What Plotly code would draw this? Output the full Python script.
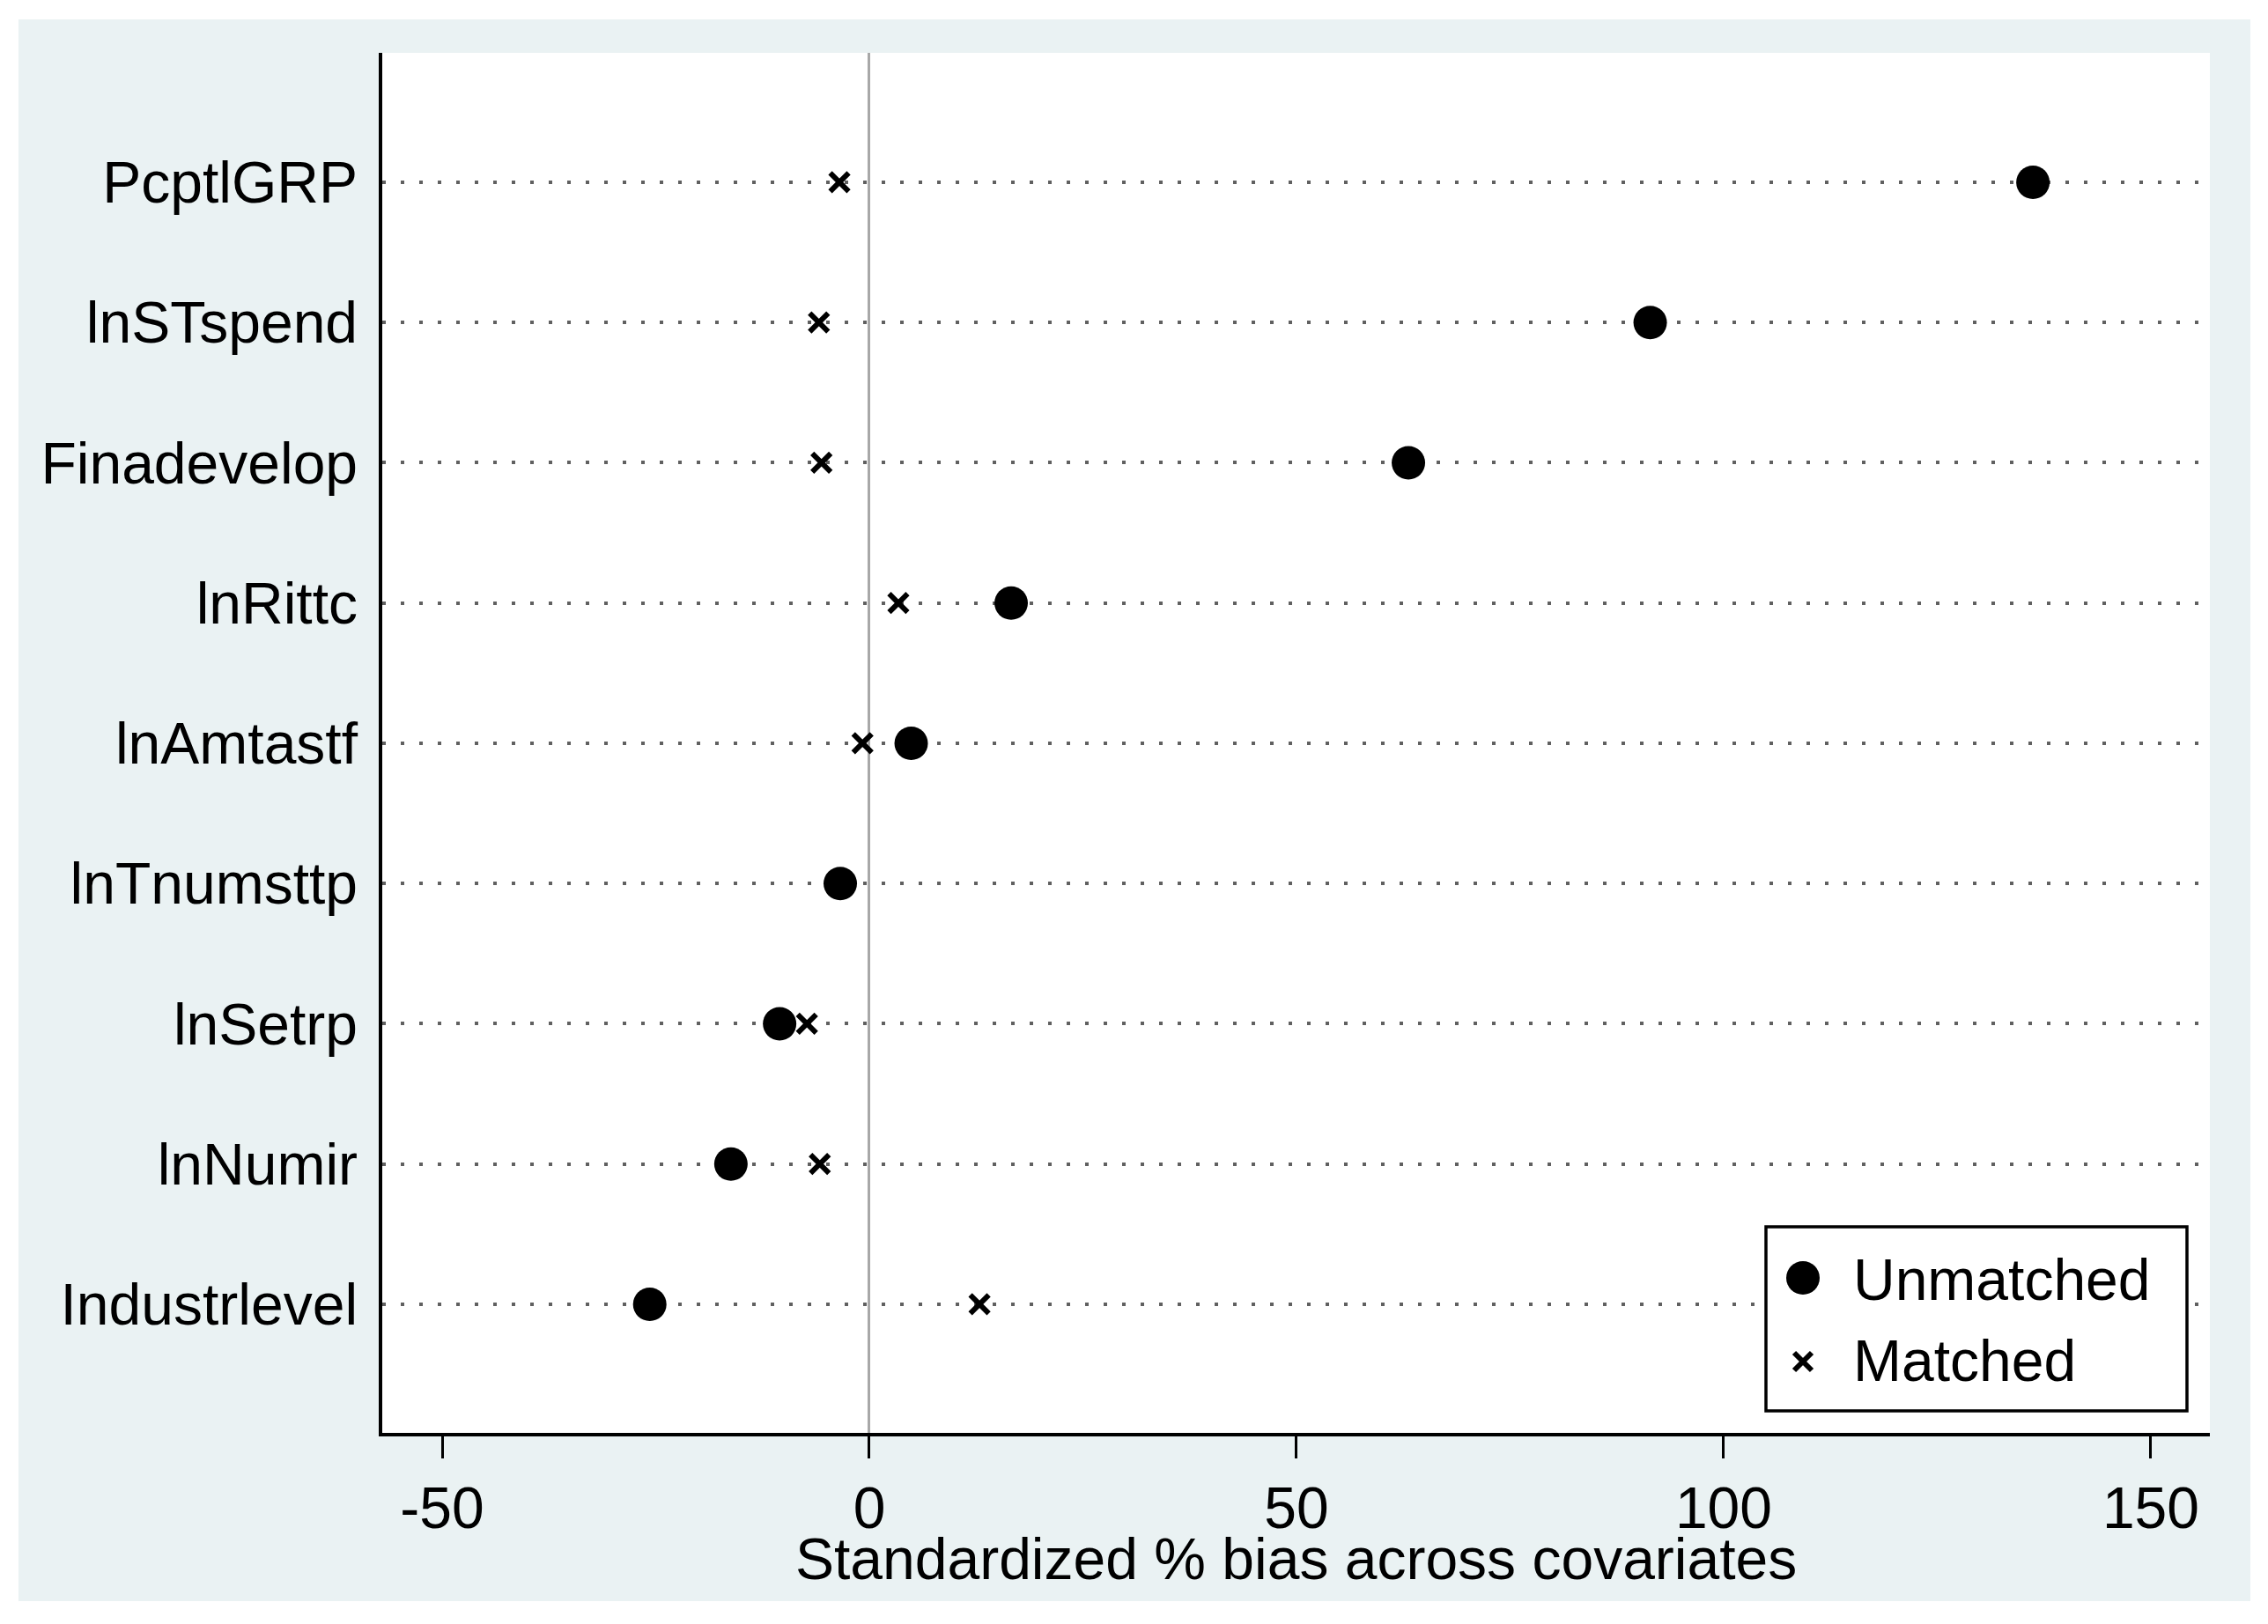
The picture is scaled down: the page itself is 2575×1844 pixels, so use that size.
import plotly.graph_objects as go

# Data
covariates = ["PcptlGRP", "lnSTspend", "Finadevelop", "lnRittc", "lnAmtastf",
              "lnTnumsttp", "lnSetrp", "lnNumir", "Industrlevel"]
unmatched = [136.2, 91.4, 63.1, 16.6, 4.9, -3.4, -10.5, -16.2, -25.7]
matched = [-3.5, -5.9, -5.6, 3.4, -0.8, -3.2, -7.3, -5.8, 12.9]
x_ticks = [-50, 0, 50, 100, 150]
x_title = "Standardized % bias across covariates"
legend_names = ["Unmatched", "Matched"]

# The page body has an 8px default margin; work in window pixels and convert.
OFF = 8
W, H = 2575 - 2 * OFF, 1844 - 2 * OFF
PLOT_L, PLOT_R, PLOT_T, PLOT_B = 434, 2509, 60, 1627   # window px
L = PLOT_L - OFF
R = W - (PLOT_R - OFF)
T = PLOT_T - OFF
B = H - (PLOT_B - OFF)
pw, ph = W - L - R, H - T - B
FONT = "Liberation Sans, Arial, sans-serif"
FS = 66
BG = "#EAF2F3"


def px(wx):
    return (wx - OFF - L) / pw


def py(wy):
    return (H - B - (wy - OFF)) / ph


fig = go.Figure()
fig.add_trace(go.Scatter(
    x=unmatched, y=covariates, mode="markers", name=legend_names[0],
    marker=dict(symbol="circle", size=38, color="black", line=dict(width=0)),
    showlegend=False,
))
fig.add_trace(go.Scatter(
    x=matched, y=covariates, mode="markers", name=legend_names[1],
    marker=dict(symbol="x-thin", size=21, color="black",
                line=dict(width=6, color="black")),
    showlegend=False,
))

shapes = [
    # Stata-like graph region background
    dict(type="rect", xref="paper", yref="paper", layer="below",
         x0=px(21), x1=px(2555), y0=py(1818), y1=py(22),
         fillcolor=BG, line=dict(width=0)),
    # white plot region
    dict(type="rect", xref="paper", yref="paper", layer="below",
         x0=0, x1=1, y0=0, y1=1, fillcolor="white", line=dict(width=0)),
    # legend box
    dict(type="rect", xref="paper", yref="paper", layer="above",
         x0=px(2005), x1=px(2483), y0=py(1602), y1=py(1393),
         fillcolor="white", line=dict(width=3.5, color="black")),
    # legend glyph: filled circle
    dict(type="circle", xref="paper", yref="paper", layer="above",
         x0=px(2047 - 19), x1=px(2047 + 19), y0=py(1451 + 19), y1=py(1451 - 19),
         fillcolor="black", line=dict(width=0)),
    # legend glyph: x
    dict(type="line", xref="paper", yref="paper", layer="above",
         x0=px(2047 - 10), x1=px(2047 + 10), y0=py(1546 + 10), y1=py(1546 - 10),
         line=dict(width=6, color="black")),
    dict(type="line", xref="paper", yref="paper", layer="above",
         x0=px(2047 - 10), x1=px(2047 + 10), y0=py(1546 - 10), y1=py(1546 + 10),
         line=dict(width=6, color="black")),
]

annotations = [
    dict(text=legend_names[0], xref="paper", yref="paper", x=px(2102), y=py(1453),
         xanchor="left", yanchor="middle", showarrow=False,
         font=dict(family=FONT, size=FS, color="black")),
    dict(text=legend_names[1], xref="paper", yref="paper", x=px(2102), y=py(1545),
         xanchor="left", yanchor="middle", showarrow=False,
         font=dict(family=FONT, size=FS, color="black")),
    dict(text=x_title, xref="paper", yref="paper", x=px(1471), y=py(1770),
         xanchor="center", yanchor="middle", showarrow=False,
         font=dict(family=FONT, size=FS, color="black")),
]

fig.update_layout(
    width=W, height=H,
    margin=dict(l=L, r=R, t=T, b=B),
    paper_bgcolor="white",
    plot_bgcolor="white",
    font=dict(family=FONT, size=FS, color="black"),
    showlegend=False,
    shapes=shapes,
    annotations=annotations,
)

fig.update_xaxes(
    range=[-57.01, 156.91],
    tickmode="array", tickvals=x_ticks, ticktext=[str(v) for v in x_ticks],
    ticks="outside", ticklen=25, tickwidth=3, tickcolor="black",
    showline=True, linecolor="black", linewidth=3.5,
    showgrid=False,
    zeroline=True, zerolinecolor="#A8A8A8", zerolinewidth=3,
    tickfont=dict(size=FS),
)
fig.update_yaxes(
    type="category",
    categoryorder="array", categoryarray=covariates[::-1],
    range=[-0.917, 8.923],
    showline=True, linecolor="black", linewidth=3.5,
    ticks="outside", ticklen=11, tickcolor="rgba(0,0,0,0)",
    showgrid=True, gridcolor="#606060", gridwidth=3.5, griddash="3.5px,17.5px",
    zeroline=False,
    tickfont=dict(size=FS),
)

fig.write_html("out.html")
